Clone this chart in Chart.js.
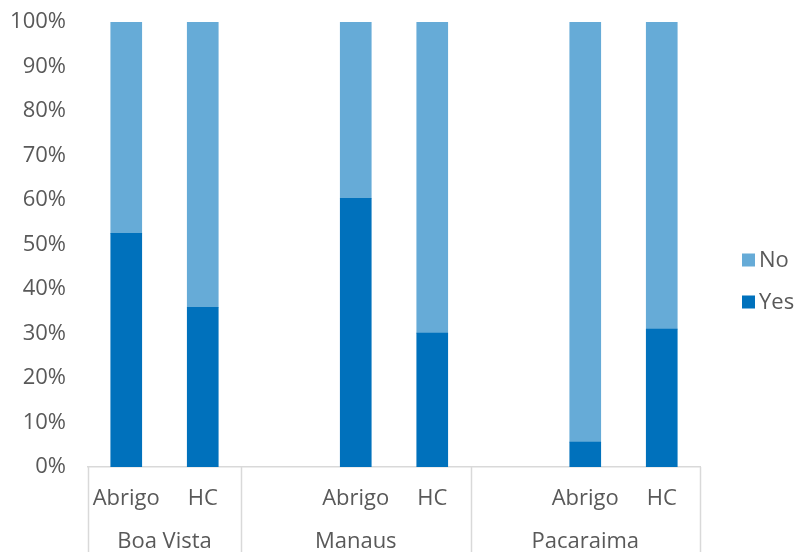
<!DOCTYPE html>
<html>
<head>
<meta charset="utf-8">
<script src="https://cdn.jsdelivr.net/npm/chart.js@4"></script>
<style>
  html, body { margin: 0; padding: 0; background: #fff; }
  #wrap { width: 801px; height: 552px; }
</style>
</head>
<body>
<div id="wrap"><canvas id="c" width="801" height="552"></canvas></div>
<script>
// ---- data ----
const groups = ['Boa Vista', 'Manaus', 'Pacaraima'];
const subCategories = ['Abrigo', 'HC'];
const yesValues = [52.5, 35.9, 60.4, 30.1, 5.6, 31.0];
const noValues = [47.5, 64.1, 39.6, 69.9, 94.4, 69.0];
const seriesNames = ['Yes', 'No'];
const yTicks = [0, 10, 20, 30, 40, 50, 60, 70, 80, 90, 100];

// Build slots: Boa Vista has 2 slots, others have a leading empty slot
const labels = [];
const yesData = [];
const noData = [];
const groupOfSlot = [];
let k = 0;
groups.forEach((g, gi) => {
  if (gi > 0) { labels.push(''); yesData.push(null); noData.push(null); groupOfSlot.push(gi); }
  subCategories.forEach(s => {
    labels.push(s); yesData.push(yesValues[k]); noData.push(noValues[k]); groupOfSlot.push(gi); k++;
  });
});

const FONT = '"Open Sans", Lato, sans-serif';
const FS = 22;
const TXT = '#595959';
const LINE = '#d9d9d9';

const groupPlugin = {
  id: 'groupAxis',
  afterDraw(chart) {
    const ctx = chart.ctx;
    const x = chart.scales.x;
    const n = labels.length;
    const half = (x.getPixelForValue(1) - x.getPixelForValue(0)) / 2;
    const top = chart.chartArea.bottom;
    const bottom = chart.height;
    ctx.save();
    ctx.strokeStyle = LINE;
    ctx.lineWidth = 1.5;
    const bounds = [];
    let start = 0;
    for (let i = 1; i <= n; i++) {
      if (i === n || groupOfSlot[i] !== groupOfSlot[i - 1]) {
        bounds.push([start, i - 1]);
        start = i;
      }
    }
    const edges = new Set();
    bounds.forEach(([a, b]) => {
      edges.add(x.getPixelForValue(a) - half);
      edges.add(x.getPixelForValue(b) + half);
    });
    edges.forEach(px => {
      ctx.beginPath();
      ctx.moveTo(Math.round(px) + 0.5, top);
      ctx.lineTo(Math.round(px) + 0.5, bottom);
      ctx.stroke();
    });
    ctx.fillStyle = TXT;
    ctx.font = FS + 'px ' + FONT;
    ctx.textAlign = 'center';
    ctx.textBaseline = 'middle';
    bounds.forEach(([a, b], gi) => {
      const cx = (x.getPixelForValue(a) - half + x.getPixelForValue(b) + half) / 2;
      ctx.fillText(groups[gi], cx, 542);
    });
    // legend (No on top, Yes below)
    const ds = chart.data.datasets;
    const order = [1, 0];
    order.forEach((di, j) => {
      const y = 260 + j * 42;
      ctx.fillStyle = ds[di].backgroundColor;
      ctx.fillRect(742, y - 6.5, 13, 13);
      ctx.fillStyle = TXT;
      ctx.textAlign = 'left';
      ctx.fillText(ds[di].label, 759, y + 1);
    });
    ctx.restore();
  }
};

new Chart(document.getElementById('c'), {
  type: 'bar',
  data: {
    labels: labels,
    datasets: [
      { label: seriesNames[0], data: yesData, backgroundColor: '#0071BC', barThickness: 31 },
      { label: seriesNames[1], data: noData, backgroundColor: '#66ABD7', barThickness: 31 }
    ]
  },
  options: {
    responsive: false,
    animation: false,
    devicePixelRatio: 1,
    layout: { padding: { top: 22, right: 101, left: 0, bottom: 0 } },
    plugins: { legend: { display: false }, tooltip: { enabled: false } },
    scales: {
      x: {
        stacked: true,
        grid: { display: false, drawTicks: false },
        border: { display: true, color: LINE, width: 1.5 },
        ticks: { color: TXT, font: { family: FONT, size: FS }, padding: 19, autoSkip: false, maxRotation: 0 },
        afterFit(s) { s.height = 85; s.paddingLeft = 0; s.paddingRight = 0; }
      },
      y: {
        stacked: true,
        min: 0, max: 100,
        afterBuildTicks(s) { s.ticks = yTicks.map(v => ({ value: v })); },
        grid: { display: false, drawTicks: false },
        border: { display: false },
        ticks: { color: TXT, font: { family: FONT, size: FS }, padding: 22, callback: v => v + '%' },
        afterFit(s) { s.width = 88; s.paddingTop = 0; s.paddingBottom = 0; }
      }
    }
  },
  plugins: [groupPlugin]
});
</script>
</body>
</html>
